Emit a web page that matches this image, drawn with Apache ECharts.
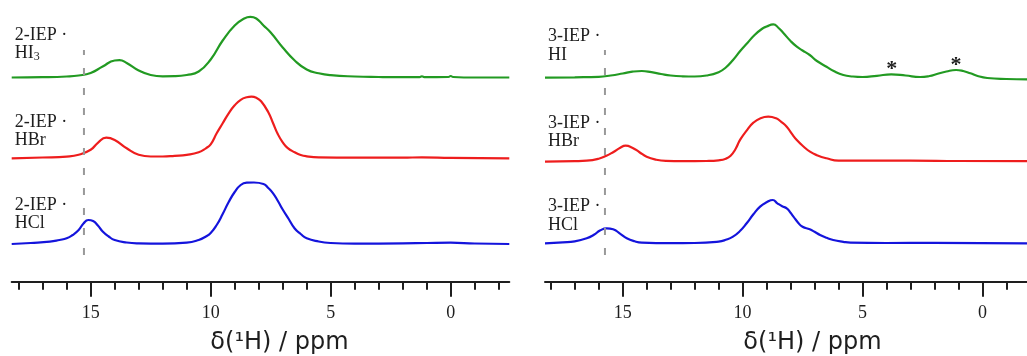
<!DOCTYPE html>
<html>
<head>
<meta charset="utf-8">
<script src="https://cdn.jsdelivr.net/npm/echarts@6/dist/echarts.min.js"></script>
<style>
  html, body { margin: 0; padding: 0; background: #fff; }
  #chart { width: 1027px; height: 356px; }
</style>
</head>
<body>
<div id="chart"></div>
<script>
// [ppm, intensity above the trace's own baseline]
const iep2HI3 = [[18.29,0],[17,0.3],[16,1],[15.5,2],[15,4.5],[14.5,11],[14,17],[13.8,17.3],[13.5,14.5],[13,7],[12.5,2.5],[12,1.2],[11.5,1.3],[11,2.5],[10.5,6],[10,18],[9.5,37],[9,52],[8.6,59],[8.35,60.6],[8.1,59],[7.8,52],[7.5,45],[7,30],[6.5,17],[6,8],[5.5,4.2],[5,2.3],[4,1],[3,0.5],[2,0.3],[1.3,0.3],[1.2,1.2],[1.1,0.3],[0.1,0.5],[0,1.5],[-0.1,0.5],[-1,0],[-2.44,0]];
const iep2HBr = [[18.29,0],[17,0.8],[16,1.7],[15.5,3.5],[15,8.5],[14.7,15.5],[14.35,20.6],[14,18.3],[13.5,10],[13,3.5],[12.5,1.8],[12,1.8],[11.5,2.5],[11,3.5],[10.5,6],[10.2,10],[10,14],[9.75,25],[9.5,35],[9.25,45],[9,53],[8.75,58.5],[8.5,61],[8.3,61.6],[8.1,60.5],[7.9,57],[7.6,46],[7.4,35],[7.2,24],[7,16],[6.8,10.5],[6.5,6],[6.25,3.3],[6,2],[5.5,1],[4,0.6],[2,0.6],[1.2,1],[0,0.5],[-2.44,0]];
const iep2HCl = [[18.29,0],[17.5,1],[16.7,2.3],[16.3,4],[16,5.7],[15.75,9],[15.5,14],[15.3,20.5],[15.1,24],[14.9,23],[14.7,18.5],[14.5,12.5],[14.25,7.5],[14,4],[13.5,1.5],[13,0.6],[12,0.3],[11,1.3],[10.5,4],[10.2,7.5],[10,11],[9.75,19],[9.5,30],[9.25,42],[9,52],[8.75,59],[8.5,61.3],[8.2,61.5],[7.8,60],[7.6,56],[7.4,50.7],[7.2,43],[7,34.5],[6.75,25],[6.5,15.5],[6.25,10],[6,5.7],[5.5,2.5],[5,1],[4,0.3],[2,0.6],[1,1],[0,1.3],[-1,0.5],[-2.44,0]];

const iep3HI = [[18.24,0.3],[17,0.7],[16,1.2],[15.5,2.5],[15,4.5],[14.6,6.3],[14.2,7],[13.8,5.8],[13.4,4],[13,2.5],[12.5,1.7],[12,1.5],[11.5,2.5],[11,5.8],[10.7,10.5],[10.4,18],[10.1,27],[9.8,35],[9.5,43],[9.2,49],[9,51.5],[8.72,53.7],[8.5,50],[8.3,45],[8,37],[7.74,31.3],[7.5,27.5],[7.2,23],[6.9,17],[6.5,11.3],[6.2,7],[5.8,3],[5.4,1.5],[5,1],[4.4,2.2],[3.8,3.7],[3.2,2.5],[2.6,1],[2.2,2],[1.9,4],[1.5,6.5],[1.1,8],[0.8,7],[0.5,4.7],[0.2,2],[-0.2,0],[-1,-1],[-1.86,-1.3]];
const iep3HBr = [[18.24,0],[17,0.5],[16.5,1],[16,3],[15.7,5.7],[15.4,9.5],[15.1,14],[14.88,16],[14.6,14],[14.3,9.5],[14,5],[13.6,2],[13.2,0.8],[12.5,0.5],[11.5,0.7],[11,1.4],[10.7,3],[10.5,6],[10.3,12.5],[10.1,22],[9.8,32],[9.55,39],[9.25,43.5],[8.93,45],[8.6,43.4],[8.4,40],[8.16,35],[7.95,28],[7.74,21.7],[7.45,15],[7.19,10],[6.9,6.5],[6.5,3.4],[6,1],[4,1],[3,1.1],[1,0.7],[-1.86,0.5]];
const iep3HCl = [[18.24,0],[17.5,1],[17,2],[16.5,5],[16.2,8.5],[15.95,12.7],[15.67,15],[15.4,14],[15.1,9.5],[14.83,5],[14.5,2],[14.2,0.7],[13,0.2],[12,0.3],[11,1.7],[10.7,3.5],[10.4,6.7],[10.1,12.5],[9.83,20],[9.55,29],[9.27,36.7],[9,41],[8.74,43.3],[8.55,40],[8.35,37],[8.16,35],[8,30.5],[7.88,26.7],[7.7,21],[7.5,16.5],[7.2,14],[7,11.5],[6.77,8.3],[6.5,5.5],[6.22,3.3],[5.8,1.5],[5.5,0.7],[4,0.3],[2,0.5],[-1.86,0]];

// peaks marked with an asterisk in the 3-IEP · HI trace
const starPeaks = [[3.78, 3.7], [1.1, 8]];

const majorTicks = [0, 5, 10, 15];
const minorTicks2 = [-2, -1, 1, 2, 3, 4, 6, 7, 8, 9, 11, 12, 13, 14, 16, 17, 18];
const minorTicks3 = [-1, 1, 2, 3, 4, 6, 7, 8, 9, 11, 12, 13, 14, 16, 17, 18];
const refLine2 = 15.28;
const refLine3 = 15.74;

const GREEN = '#229a22', RED = '#ee1d1d', BLUE = '#1414dc';
const INK = '#1e1e1e';
const SERIF = 'Liberation Serif';

const option = {
  animation: false,
  backgroundColor: '#fff',
  grid: [], xAxis: [], yAxis: [], series: [], graphic: []
};

function addPanel(p) {
  const hiddenX = gi => ({
    type: 'value', gridIndex: gi, min: p.range[0], max: p.range[1], inverse: true, show: false
  });

  p.traces.forEach(t => {
    const gi = option.grid.length;
    option.grid.push({ left: p.left, width: p.width, top: t.baseline - 65, height: 70, outerBoundsMode: 'none' });
    option.xAxis.push(hiddenX(gi));
    option.yAxis.push({ type: 'value', gridIndex: gi, min: -5, max: 65, show: false });
    const s = {
      type: 'line', xAxisIndex: option.xAxis.length - 1, yAxisIndex: option.yAxis.length - 1,
      data: t.data, smooth: 0.5, showSymbol: false, silent: true,
      lineStyle: { color: t.color, width: 2.2 }
    };
    if (t.stars) {
      s.markPoint = {
        symbol: 'circle', symbolSize: 0, silent: true,
        label: {
          show: true, formatter: '*', position: 'top', distance: -6,
          fontFamily: SERIF, fontSize: 22, fontWeight: 'bold', color: INK
        },
        data: t.stars.map(c => ({ coord: c }))
      };
    }
    option.series.push(s);

    option.graphic.push({
      type: 'text', left: p.left + 3, top: t.labelTop, silent: true,
      style: {
        text: t.label, fill: INK, font: '18px "' + SERIF + '"', lineHeight: 18.5,
        rich: { sub: { fontSize: 12, lineHeight: 6, verticalAlign: 'bottom', fill: INK, fontFamily: SERIF } }
      }
    });
  });

  // dashed reference line
  let gi = option.grid.length;
  option.grid.push({ left: p.left, width: p.width, top: 50, bottom: 101, outerBoundsMode: 'none' });
  option.xAxis.push(hiddenX(gi));
  option.yAxis.push({ type: 'value', gridIndex: gi, min: 0, max: 1, show: false });
  option.series.push({
    type: 'line', xAxisIndex: option.xAxis.length - 1, yAxisIndex: option.yAxis.length - 1,
    data: [[p.refLine, 0], [p.refLine, 1]], showSymbol: false, silent: true,
    lineStyle: { color: '#999', width: 2, type: [7, 13] }
  });

  // ppm axis: major ticks + labels, then minor ticks on a second axis
  gi = option.grid.length;
  option.grid.push({ left: p.left, width: p.width, top: 40, bottom: 74.3, outerBoundsMode: 'none' });
  option.xAxis.push({
    type: 'value', gridIndex: gi, position: 'bottom', min: p.range[0], max: p.range[1], inverse: true,
    axisLine: { show: true, lineStyle: { color: INK, width: 2 } },
    axisTick: { show: true, customValues: majorTicks, length: 15, lineStyle: { color: INK, width: 2 } },
    axisLabel: { show: true, customValues: majorTicks, margin: 23, fontFamily: SERIF, fontSize: 18, color: INK },
    splitLine: { show: false },
    name: 'δ(¹H) / ppm', nameLocation: 'middle', nameGap: 49,
    nameTextStyle: { fontFamily: 'DejaVu Sans', fontSize: 24, color: INK, padding: [0, 0, 0, p.namePad] }
  });
  option.xAxis.push({
    type: 'value', gridIndex: gi, position: 'bottom', min: p.range[0], max: p.range[1], inverse: true,
    axisLine: { show: false },
    axisTick: { show: true, customValues: p.minorTicks, length: 8, lineStyle: { color: INK, width: 2 } },
    axisLabel: { show: false },
    splitLine: { show: false }
  });
  option.yAxis.push({ type: 'value', gridIndex: gi, show: false });
}

addPanel({
  left: 11.7, width: 497.6, range: [-2.44, 18.29], refLine: refLine2,
  minorTicks: minorTicks2, namePad: 38,
  traces: [
    { data: iep2HI3, color: GREEN, baseline: 77.5, label: '2-IEP ·\nHI{sub|3}', labelTop: 25.8 },
    { data: iep2HBr, color: RED, baseline: 158.3, label: '2-IEP ·\nHBr', labelTop: 113 },
    { data: iep2HCl, color: BLUE, baseline: 244, label: '2-IEP ·\nHCl', labelTop: 195.8 }
  ]
});

addPanel({
  left: 545, width: 482, range: [-1.86, 18.24], refLine: refLine3,
  minorTicks: minorTicks3, namePad: 53,
  traces: [
    { data: iep3HI, color: GREEN, baseline: 78, label: '3-IEP ·\nHI', labelTop: 27.5, stars: starPeaks },
    { data: iep3HBr, color: RED, baseline: 161.7, label: '3-IEP ·\nHBr', labelTop: 114 },
    { data: iep3HCl, color: BLUE, baseline: 243.3, label: '3-IEP ·\nHCl', labelTop: 197.5 }
  ]
});

const chart = echarts.init(document.getElementById('chart'));
chart.setOption(option);
</script>
</body>
</html>
